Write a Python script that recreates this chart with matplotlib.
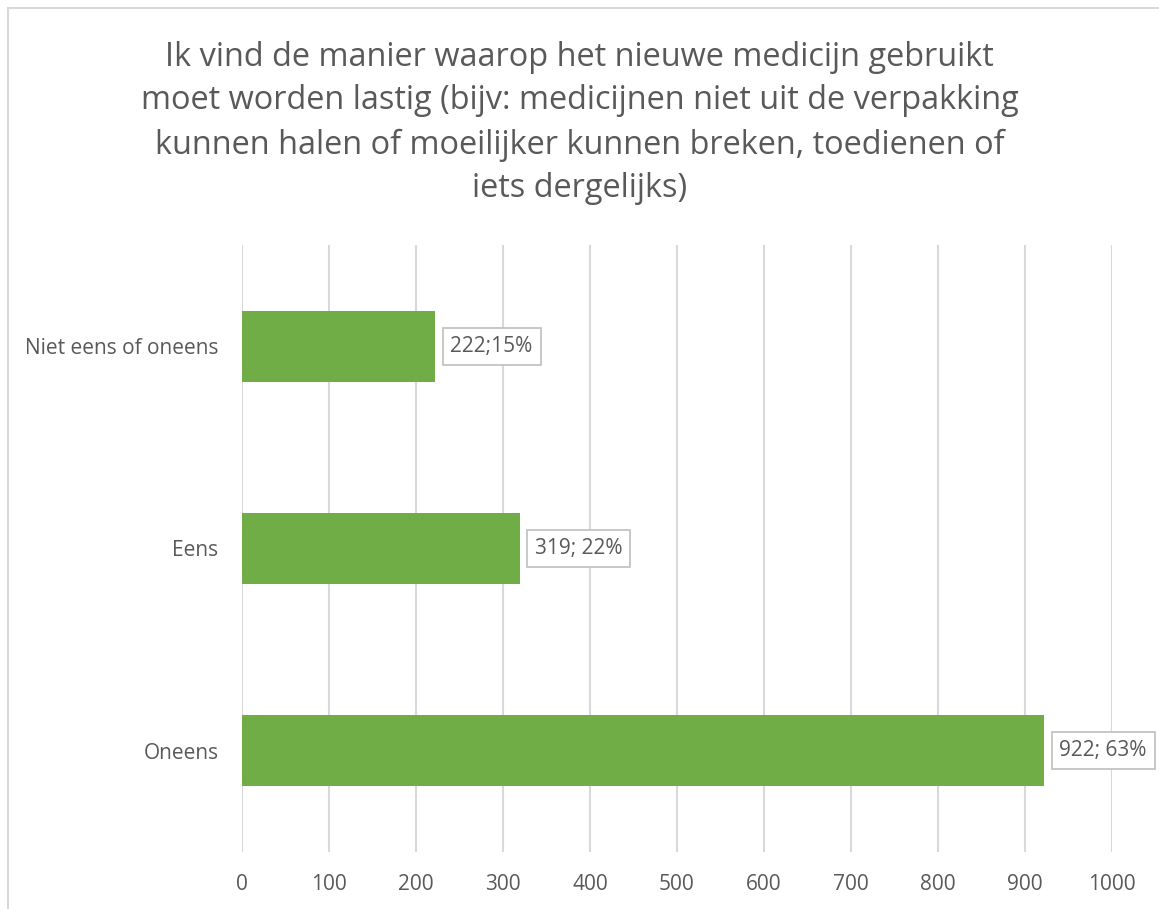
import matplotlib
matplotlib.use("Agg")
import matplotlib.pyplot as plt
from matplotlib.patches import Rectangle

categories = ["Oneens", "Eens", "Niet eens of oneens"]
values = [922, 319, 222]
labels = ["922; 63%", "319; 22%", "222;15%"]
xticks = [0, 100, 200, 300, 400, 500, 600, 700, 800, 900, 1000]
title = ("Ik vind de manier waarop het nieuwe medicijn gebruikt\n"
         "moet worden lastig (bijv: medicijnen niet uit de verpakking\n"
         "kunnen halen of moeilijker kunnen breken, toedienen of\n"
         "iets dergelijks)")

W, H = 1159, 909
fig = plt.figure(figsize=(W / 100, H / 100), dpi=100)
fig.patch.set_facecolor("white")
plt.rcParams["font.family"] = ["Open Sans", "DejaVu Sans"]
gray = "#595959"

# chart border (cropped on right/bottom)
fig.add_artist(Rectangle((8 / W, -0.1), 1.2, (H - 8) / H + 0.1, transform=fig.transFigure,
                         fill=False, edgecolor="#D9D9D9", linewidth=1.5))

ax = fig.add_axes([242 / W, 1 - 852 / H, (1112 - 242) / W, (852 - 245) / H])
ax.set_xlim(0, 1000)
ax.set_ylim(-0.5, 2.5)
ax.barh(range(len(categories)), values, height=0.35, color="#70AD47", zorder=3)
ax.set_yticks(range(len(categories)))
ax.set_yticklabels(categories, fontsize=15, color=gray)
ax.set_xticks(xticks)
ax.set_xticklabels([str(t) for t in xticks], fontsize=15, color=gray)
ax.tick_params(length=0)
ax.tick_params(axis="x", pad=16)
ax.tick_params(axis="y", pad=17)
ax.grid(axis="x", color="#D9D9D9", linewidth=1.5, zorder=0)
for s in ax.spines.values():
    s.set_visible(False)

for i, (v, lab) in enumerate(zip(values, labels)):
    ax.annotate(lab, xy=(v, i), xytext=(11, 0), textcoords="offset points",
                va="center", ha="left", fontsize=15, color=gray, zorder=4,
                bbox=dict(boxstyle="square,pad=0.38", facecolor="white",
                          edgecolor="#BFBFBF", linewidth=1.2))

fig.text(0.5, 1 - 123 / H, title, ha="center", va="center", fontsize=23.4,
         color=gray, linespacing=1.43)

fig.savefig("out.png", dpi=100)
